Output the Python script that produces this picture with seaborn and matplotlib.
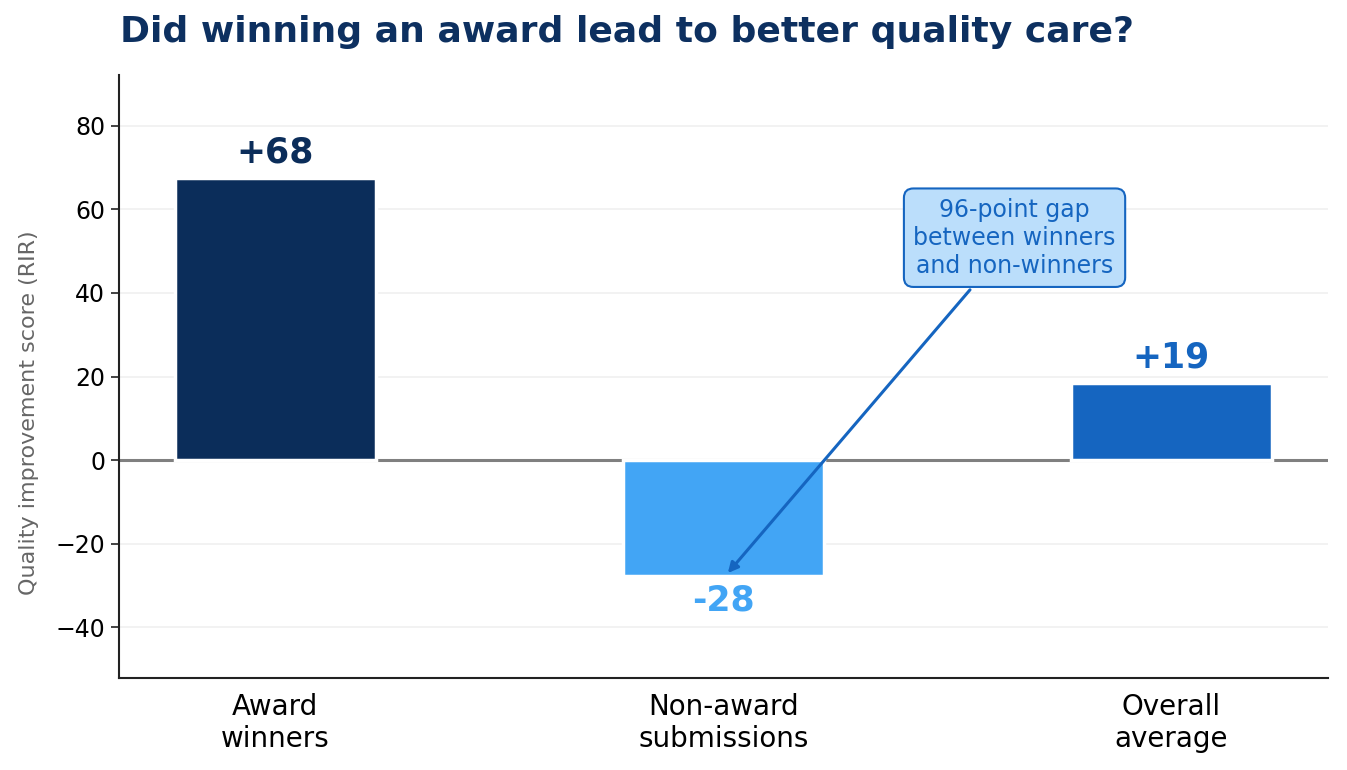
import seaborn as sns
import pandas as pd
import matplotlib.pyplot as plt

# Data
groups = ["Award\nwinners", "Non-award\nsubmissions", "Overall\naverage"]
scores = [67.4, -27.6, 18.5]
labels = ["+68", "-28", "+19"]
colors = ["#0b2d5a", "#42a5f5", "#1565c0"]

df = pd.DataFrame({"group": groups, "score": scores})

sns.set_style("white")
plt.rcParams['font.family'] = ['DejaVu Sans']

fig, ax = plt.subplots(figsize=(13.47, 7.7), dpi=100)
fig.subplots_adjust(left=0.088, right=0.986, top=0.902, bottom=0.12)

ax.axhline(0, color="#808080", lw=2.2, zorder=1)
sns.barplot(data=df, x="group", y="score", hue="group", palette=colors,
            saturation=1, width=0.45, edgecolor="white", linewidth=2.5,
            legend=False, ax=ax, zorder=2)

# value labels
for i, (v, lab, c) in enumerate(zip(scores, labels, colors)):
    if v >= 0:
        ax.text(i, v + 2, lab, ha="center", va="bottom", fontsize=25,
                fontweight="bold", color=c)
    else:
        ax.text(i, v - 1.8, lab, ha="center", va="top", fontsize=25,
                fontweight="bold", color=c)

# gap annotation
ax.annotate("96-point gap\nbetween winners\nand non-winners",
            xy=(1.01, scores[1] + 0.6), xytext=(1.65, 53.2),
            ha="center", va="center", fontsize=17, color="#1565c0",
            bbox=dict(boxstyle="round,pad=0.4", fc="#bbdefb", ec="#1565c0", lw=1.5),
            arrowprops=dict(arrowstyle="-|>", color="#1565c0", lw=2.2,
                            mutation_scale=15, shrinkA=2, shrinkB=0),
            zorder=5)

ax.set_xlim(-0.35, 2.35)
ax.set_ylim(-52, 92)
ax.set_yticks([-40, -20, 0, 20, 40, 60, 80])
ax.yaxis.grid(True, color="#f0f0f0", lw=1.2, zorder=0)
ax.set_axisbelow(True)
ax.set_xlabel("")
ax.set_ylabel("Quality improvement score (RIR)", fontsize=16, color="#666666")
ax.yaxis.set_label_coords(-0.066, 0.44)
ax.tick_params(axis="y", labelsize=17, length=6, width=1.2, left=True,
               labelcolor="black", color="#222222")
ax.tick_params(axis="x", labelsize=20, length=0, pad=11, labelcolor="black")
for s in ["top", "right"]:
    ax.spines[s].set_visible(False)
for s in ["left", "bottom"]:
    ax.spines[s].set_color("#222222")
    ax.spines[s].set_linewidth(1.5)

fig.text(0.089, 0.958, "Did winning an award lead to better quality care?",
         fontsize=26, fontweight="bold", color="#0d3060", ha="left", va="center")

fig.savefig("out.png", dpi=100)
